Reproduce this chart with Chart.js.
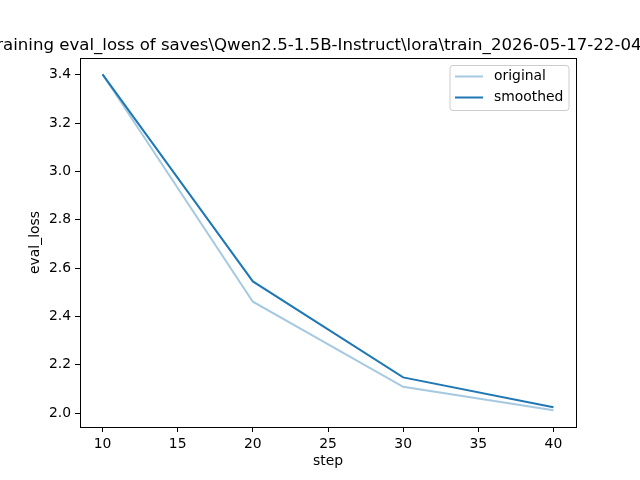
<!DOCTYPE html>
<html>
<head>
<meta charset="utf-8">
<script src="https://cdn.jsdelivr.net/npm/chart.js@4.4.1/dist/chart.umd.min.js"></script>
<style>
  html, body { margin: 0; padding: 0; background: #fff; }
  #wrap { width: 640px; height: 480px; }
</style>
</head>
<body>
<div id="wrap"><canvas id="lossChart" width="640" height="480"></canvas></div>
<script>
 // values
 var steps = [10, 20, 30, 40];
 var original = [3.402, 2.461, 2.109, 2.012];
 var smoothed = [3.402, 2.545, 2.148, 2.024];
 var xTicks = [10, 15, 20, 25, 30, 35, 40];
 var yTicks = [2.0, 2.2, 2.4, 2.6, 2.8, 3.0, 3.2, 3.4];
 var titleText = "Training eval_loss of saves\\Qwen2.5-1.5B-Instruct\\lora\\train_2026-05-17-22-04";

 var FONT = "'DejaVu Sans', sans-serif";

 function pairs(xs, ys) {
   return xs.map(function (x, i) { return { x: x, y: ys[i] }; });
 }

 // frame, title and legend drawn the matplotlib way
 var mplDecor = {
   id: 'mplDecor',
   afterDraw: function (chart) {
     var ctx = chart.ctx, a = chart.chartArea;
     ctx.save();
     ctx.strokeStyle = '#000';
     ctx.lineWidth = 1;
     ctx.strokeRect(Math.round(a.left) + 0.5, Math.round(a.top) + 0.5,
       Math.round(a.right - a.left), Math.round(a.bottom - a.top));

     // title is wider than the canvas; it is clipped on both sides
     ctx.fillStyle = '#000';
     ctx.font = '16.6px ' + FONT;
     ctx.textAlign = 'center';
     ctx.textBaseline = 'alphabetic';
     ctx.fillText(titleText, 315, 50);

     // legend
     var bx = 450, by = 65.5, bw = 119, bh = 45, r = 3;
     ctx.fillStyle = 'rgba(255,255,255,0.8)';
     ctx.strokeStyle = '#cccccc';
     ctx.beginPath();
     ctx.moveTo(bx + r, by);
     ctx.arcTo(bx + bw, by, bx + bw, by + bh, r);
     ctx.arcTo(bx + bw, by + bh, bx, by + bh, r);
     ctx.arcTo(bx, by + bh, bx, by, r);
     ctx.arcTo(bx, by, bx + bw, by, r);
     ctx.closePath();
     ctx.fill();
     ctx.stroke();

     ctx.font = '13.9px ' + FONT;
     ctx.textAlign = 'left';
     ctx.textBaseline = 'middle';
     chart.data.datasets.forEach(function (ds, i) {
       var y = 76.5 + i * 21;
       ctx.strokeStyle = ds.borderColor;
       ctx.lineWidth = ds.borderWidth;
       ctx.beginPath();
       ctx.moveTo(455, y);
       ctx.lineTo(483, y);
       ctx.stroke();
       ctx.fillStyle = '#000';
       ctx.fillText(ds.label, 494, y);
     });
     ctx.restore();
   }
 };

 var ctxloss = document.getElementById("lossChart");
 var lossChart = new Chart(ctxloss, {
   type: 'line',
   data: {
     datasets: [{
       label: 'original',
       data: pairs(steps, original),
       borderColor: 'rgba(31,119,180,0.4)',
       borderWidth: 2,
       pointRadius: 0,
       tension: 0,
       fill: false,
     }, {
       label: 'smoothed',
       data: pairs(steps, smoothed),
       borderColor: 'rgb(31,119,180)',
       borderWidth: 2,
       pointRadius: 0,
       tension: 0,
       fill: false,
     }],
   },
   options: {
     responsive: false,
     animation: false,
     devicePixelRatio: 1,
     layout: { padding: { top: 58, right: 64, bottom: 0, left: 0 } },
     plugins: {
       legend: { display: false },
       title: { display: false },
       tooltip: { enabled: false },
     },
     scales: {
       x: {
         type: 'linear',
         min: 8.5,
         max: 41.5,
         afterFit: function (s) { s.height = 53; },
         afterBuildTicks: function (s) { s.ticks = xTicks.map(function (v) { return { value: v }; }); },
         grid: { drawOnChartArea: false, tickLength: 5, tickColor: '#000', color: '#000' },
         border: { display: true, color: '#000' },
         ticks: { color: '#000', padding: 4, maxRotation: 0, font: { family: FONT, size: 13.9 } },
         title: { display: true, text: 'step', color: '#000', padding: { top: 0, bottom: 10 }, font: { family: FONT, size: 13.9 } },
       },
       y: {
         type: 'linear',
         min: 1.9426,
         max: 3.4694,
         afterFit: function (s) { s.width = 80; },
         afterBuildTicks: function (s) { s.ticks = yTicks.map(function (v) { return { value: v }; }); },
         grid: { drawOnChartArea: false, tickLength: 5, tickColor: '#000', color: '#000' },
         border: { display: true, color: '#000' },
         ticks: {
           color: '#000', padding: 4, font: { family: FONT, size: 13.9 },
           callback: function (v) { return Number(v).toFixed(1); },
         },
         title: { display: true, text: 'eval_loss', color: '#000', padding: { top: 27, bottom: 0 }, font: { family: FONT, size: 13.9 } },
       },
     },
   },
   plugins: [mplDecor],
 });
</script>
</body>
</html>
